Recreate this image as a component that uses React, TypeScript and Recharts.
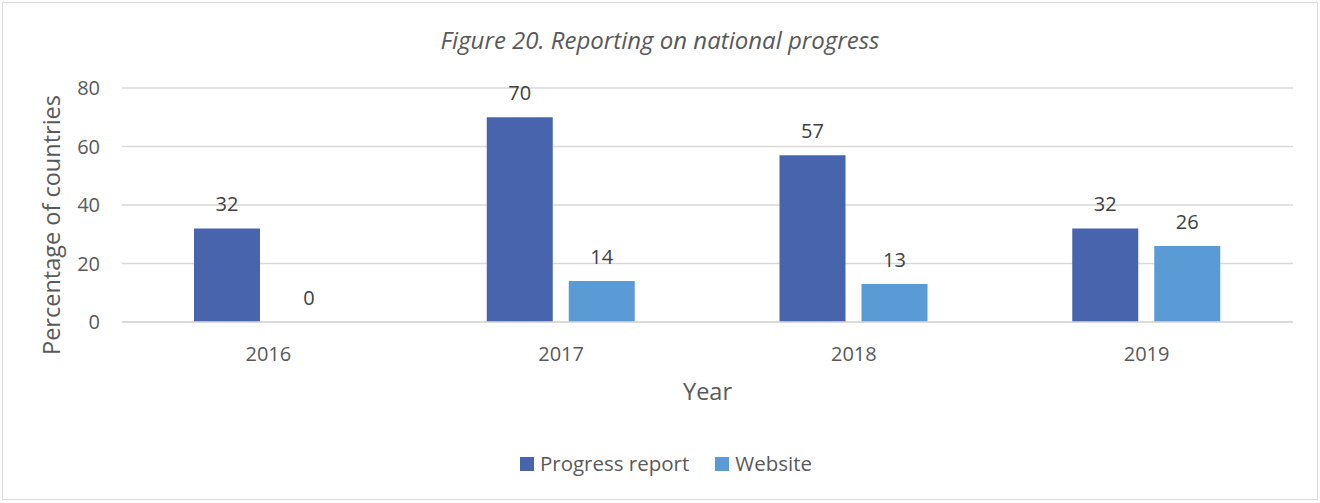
import React from 'react';
import { BarChart, Bar, XAxis, YAxis, CartesianGrid, LabelList, Label } from 'recharts';

const years = ['2016', '2017', '2018', '2019'];
const progressReport = [32, 70, 57, 32];
const website = [0, 14, 13, 26];
const yTicks = [0, 20, 40, 60, 80];
const seriesNames = ['Progress report', 'Website'];
const seriesColors = ['#4864AD', '#5B9BD5'];

const data = years.map((y, i) => ({ year: y, progress: progressReport[i], website: website[i] }));

const FONT = '"Open Sans", sans-serif';
const TEXT = '#595959';

const renderValue = (props: any) => {
  const { x, y, width, value } = props;
  return (
    <text
      x={Number(x) + Number(width) / 2}
      y={Number(y) - 17}
      textAnchor="middle"
      fill="#404040"
      fontSize={20}
      fontFamily={FONT}
    >
      {value}
    </text>
  );
};

const tinyForZero = (value: any) => (Number(value) === 0 ? 0.01 : 0);

export default function App() {
  return (
    <div style={{ position: 'absolute', left: 0, top: 0, width: 1320, height: 503, background: '#fff', fontFamily: FONT }}>
      <div style={{ position: 'absolute', left: 2, top: 2, width: 1314, height: 496, border: '1px solid #d9d9d9' }} />
      <div style={{ position: 'absolute', left: 0, top: 24, width: 1320, textAlign: 'center', fontStyle: 'italic', fontSize: 24, lineHeight: '32px', color: TEXT }}>
        Figure 20. Reporting on national progress
      </div>
      <BarChart
        width={1320}
        height={503}
        data={data}
        margin={{ top: 88, right: 27, bottom: 0, left: 0 }}
        barGap={16}
        barSize={66}
        style={{ position: 'absolute', left: 0, top: 0 }}
      >
        <CartesianGrid vertical={false} stroke="#d9d9d9" strokeWidth={1.5} />
        <XAxis
          dataKey="year"
          axisLine={{ stroke: '#d9d9d9', strokeWidth: 1.5 }}
          tickLine={false}
          tick={{ fill: TEXT, fontSize: 20, fontFamily: FONT }}
          tickMargin={19}
          height={181}
        >
          <Label value="Year" position="insideTop" offset={61} fill={TEXT} fontSize={23.5} fontFamily={FONT} />
        </XAxis>
        <YAxis
          domain={[0, 80]}
          ticks={yTicks}
          axisLine={false}
          tickLine={false}
          tick={{ fill: TEXT, fontSize: 20, fontFamily: FONT }}
          tickMargin={16}
          width={122}
        >
          <Label
            value="Percentage of countries"
            angle={-90}
            position="insideLeft"
            offset={0}
            dx={52}
            dy={20}
            fill={TEXT}
            fontSize={23.5}
            fontFamily={FONT}
            style={{ textAnchor: 'middle' }}
          />
        </YAxis>
        <Bar dataKey="progress" name={seriesNames[0]} fill={seriesColors[0]} isAnimationActive={false}>
          <LabelList dataKey="progress" content={renderValue} />
        </Bar>
        <Bar dataKey="website" name={seriesNames[1]} fill={seriesColors[1]} minPointSize={tinyForZero} isAnimationActive={false}>
          <LabelList dataKey="website" content={renderValue} />
        </Bar>
      </BarChart>
      <div
        style={{
          position: 'absolute',
          left: 0,
          top: 450,
          width: 1320,
          display: 'flex',
          justifyContent: 'center',
          alignItems: 'center',
          fontSize: 20.5,
          color: TEXT,
          lineHeight: '27px',
          paddingLeft: 12,
          boxSizing: 'border-box',
        }}
      >
        {seriesNames.map((n, i) => (
          <div key={n} style={{ display: 'flex', alignItems: 'center', marginRight: i === 0 ? 26 : 0 }}>
            <span style={{ display: 'inline-block', width: 14, height: 14, background: seriesColors[i], marginRight: 6 }} />
            <span>{n}</span>
          </div>
        ))}
      </div>
    </div>
  );
}
